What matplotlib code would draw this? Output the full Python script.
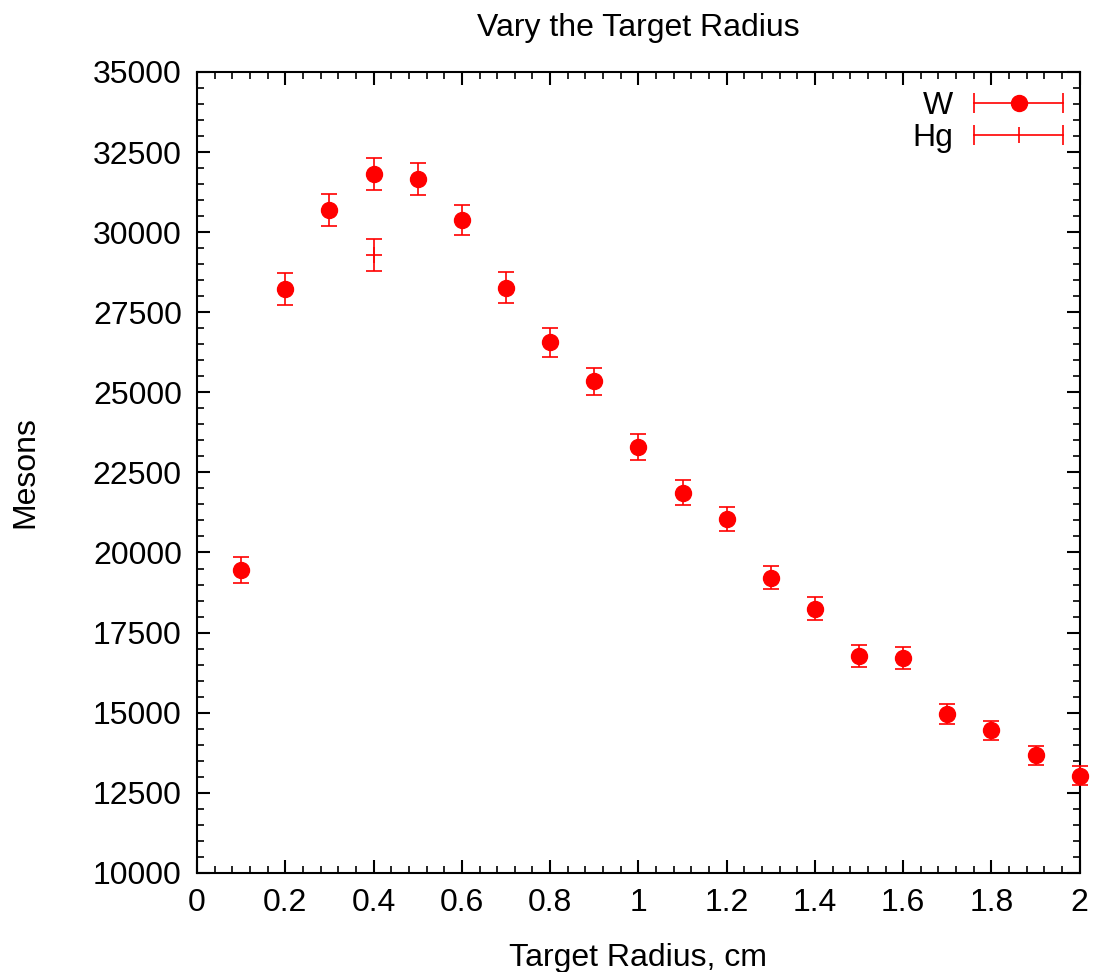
import matplotlib
matplotlib.use('Agg')
import matplotlib.pyplot as plt
from matplotlib.lines import Line2D
from matplotlib.legend_handler import HandlerLine2D, HandlerTuple
from matplotlib.ticker import MultipleLocator

plt.rcParams['font.family'] = ['Liberation Sans', 'DejaVu Sans']

# W target: radius (cm), mesons, error
radius = [0.1, 0.2, 0.3, 0.4, 0.5, 0.6, 0.7, 0.8, 0.9, 1.0,
          1.1, 1.2, 1.3, 1.4, 1.5, 1.6, 1.7, 1.8, 1.9, 2.0]
w_mesons = [19450, 28220, 30680, 31810, 31660, 30380, 28270, 26560, 25340, 23290,
            21860, 21050, 19210, 18250, 16780, 16700, 14970, 14450, 13670, 13030]
w_err = [400, 500, 500, 500, 490, 480, 470, 450, 430, 410,
         390, 380, 360, 350, 340, 340, 310, 300, 300, 290]

# Hg target
hg_radius = [0.4]
hg_mesons = [29280]
hg_err = [500]

fs = 23
fig = plt.figure(figsize=(10.95, 9.72), dpi=100)
ax = fig.add_axes([0.18, 0.102, 0.806, 0.824])

ax.errorbar(radius, w_mesons, yerr=w_err, fmt='o', color='red', markersize=11.5,
            elinewidth=1.2, capsize=6, capthick=1.2, clip_on=False, zorder=3)
ax.errorbar(hg_radius, hg_mesons, yerr=hg_err, fmt='+', color='red', markersize=11,
            markeredgewidth=1.2, elinewidth=1.2, capsize=6, capthick=1.2)

ax.set_xlim(0, 2)
ax.set_ylim(10000, 35000)
ax.xaxis.set_major_locator(MultipleLocator(0.2))
ax.xaxis.set_minor_locator(MultipleLocator(0.04))
ax.yaxis.set_major_locator(MultipleLocator(2500))
ax.yaxis.set_minor_locator(MultipleLocator(500))
ax.xaxis.set_major_formatter(plt.FuncFormatter(lambda v, p: f'{v:g}'))

ax.tick_params(which='both', direction='in', top=True, right=True, labelsize=fs, width=1.5)
ax.tick_params(which='major', length=9.5)
ax.tick_params(which='minor', length=4.7, width=1.2)
ax.tick_params(axis='y', pad=11)
ax.tick_params(axis='x', pad=11)
for s in ax.spines.values():
    s.set_linewidth(1.5)

ax.set_title('Vary the Target Radius', fontsize=fs, pad=26)
ax.set_xlabel('Target Radius, cm', fontsize=fs, labelpad=18)
ax.set_ylabel('Mesons', fontsize=fs, labelpad=38)

# gnuplot style legend keys: horizontal bar with end caps
w_bar = Line2D([], [], color='red', lw=1.2, marker='|', markersize=14, markeredgewidth=1.2)
w_dot = Line2D([], [], color='red', lw=0, marker='o', markersize=11.5)
hg_bar = Line2D([], [], color='red', lw=1.2, marker='|', markersize=14, markeredgewidth=1.2)
hg_dot = Line2D([], [], color='red', lw=0, marker='|', markersize=11, markeredgewidth=1.2)
hmap = {w_bar: HandlerLine2D(numpoints=2), hg_bar: HandlerLine2D(numpoints=2),
        w_dot: HandlerLine2D(numpoints=1), hg_dot: HandlerLine2D(numpoints=1)}
hmap[tuple] = HandlerTuple(ndivide=1)
ax.legend([(w_bar, w_dot), (hg_bar, hg_dot)], ['W', 'Hg'], handler_map=hmap,
          loc='upper right', bbox_to_anchor=(1.005, 0.99), frameon=False,
          markerfirst=False, fontsize=fs, handlelength=3.4, labelspacing=0.05,
          borderaxespad=0.0, handletextpad=0.35, borderpad=0.35)

fig.savefig('out.png', dpi=100)
